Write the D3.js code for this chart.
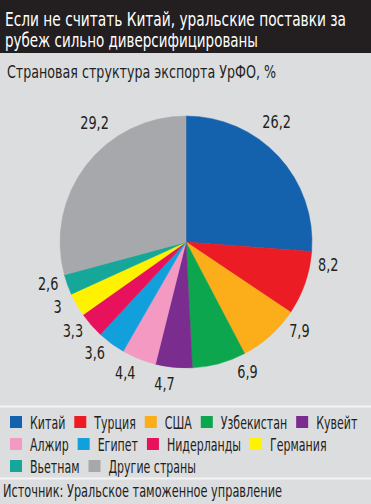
<!DOCTYPE html>
<html>
<head>
<meta charset="utf-8">
<script src="https://cdn.jsdelivr.net/npm/d3@7"></script>
<style>
  html, body { margin: 0; padding: 0; background: #dcddde; }
  svg { display: block; }
  text { font-family: "Liberation Sans Narrow", "DejaVu Sans Condensed", sans-serif; fill: #231f20; }
</style>
</head>
<body>
<div id="chart"></div>
<script>
var titleLines = ['Если не считать Китай, уральские поставки за', 'рубеж сильно диверсифицированы'];
var subtitle = 'Страновая структура экспорта УрФО, %';
var source = 'Источник: Уральское таможенное управление';

var countries = ['Китай', 'Турция', 'США', 'Узбекистан', 'Кувейт', 'Алжир', 'Египет',
	'Нидерланды', 'Германия', 'Вьетнам', 'Другие страны'];
var shares = [26.2, 8.2, 7.9, 6.9, 4.7, 4.4, 3.6, 3.3, 3, 2.6, 29.2];
var colors = ['#1461ae', '#ec1c24', '#fbad1a', '#0ca64e', '#7a2c8f', '#f49ac2', '#12a0dd',
	'#e8125c', '#fff200', '#15a89a', '#a6a8ab'];
var legendRows = [[0, 1, 2, 3, 4], [5, 6, 7, 8], [9, 10]];

var width = 371, height = 504;
var cx = 186, cy = 242, radius = 126;
var narrow = 0.84; // the original face is more condensed than any installed one
var legendNarrow = 0.68;

var svg = d3.select('#chart')
	.append('svg')
	.attr('width', width)
	.attr('height', height);

function condense(sel, k) {
	sel.each(function () {
		var w = this.getComputedTextLength();
		d3.select(this)
			.attr('textLength', w * k)
			.attr('lengthAdjust', 'spacingAndGlyphs');
	});
}

// background bands
svg.append('rect').attr('width', width).attr('height', height).attr('fill', '#dcddde');
svg.append('rect').attr('width', width).attr('height', 53).attr('fill', '#231f20');
svg.append('line').attr('x1', 0).attr('x2', width).attr('y1', 406.5).attr('y2', 406.5)
	.attr('stroke', '#f4f4f4').attr('stroke-width', 2);
svg.append('line').attr('x1', 0).attr('x2', width).attr('y1', 478.5).attr('y2', 478.5)
	.attr('stroke', '#f4f4f4').attr('stroke-width', 2);

// title
var titleWidths = [341, 253];
svg.selectAll('text.title')
	.data(titleLines)
	.enter()
	.append('text')
	.attr('class', 'title')
	.attr('x', 5)
	.attr('y', function (d, i) { return 26 + i * 21; })
	.attr('textLength', function (d, i) { return titleWidths[i]; })
	.attr('lengthAdjust', 'spacingAndGlyphs')
	.style('font-size', '20px')
	.style('fill', '#ffffff')
	.text(function (d) { return d; });

svg.append('text')
	.attr('x', 7)
	.attr('y', 78)
	.attr('textLength', 269)
	.attr('lengthAdjust', 'spacingAndGlyphs')
	.style('font-size', '18px')
	.text(subtitle);

// pie
var data = countries.map(function (c, i) {
	return { name: c, value: shares[i], color: colors[i] };
});

var pie = d3.pie()
	.value(function (d) { return d.value; })
	.sort(null);

var arc = d3.arc()
	.innerRadius(0)
	.outerRadius(radius);

var arcs = pie(data);

var g = svg.append('g')
	.attr('transform', 'translate(' + cx + ',' + cy + ')');

g.selectAll('path')
	.data(arcs)
	.enter()
	.append('path')
	.attr('d', arc)
	.attr('fill', function (d) { return d.data.color; })
	.attr('stroke', function (d) { return d.data.color; })
	.attr('stroke-width', 0.5);

// value labels, pulled a little toward the top/bottom of the pie
function labelAngle(d) {
	var mid = (d.startAngle + d.endAngle) / 2 * 180 / Math.PI;
	if (mid < 180) mid -= 10;
	else if (mid > 270) mid += 15;
	else mid += 3;
	return mid * Math.PI / 180;
}

g.selectAll('text.value')
	.data(arcs)
	.enter()
	.append('text')
	.attr('class', 'value')
	.attr('x', function (d) {
		var r = d.data.value > 20 ? 150 : 144;
		return Math.sin(labelAngle(d)) * r;
	})
	.attr('y', function (d) {
		var r = d.data.value > 20 ? 150 : 144;
		return -Math.cos(labelAngle(d)) * r;
	})
	.attr('text-anchor', 'middle')
	.attr('dominant-baseline', 'central')
	.style('font-size', '17px')
	.text(function (d) { return String(d.data.value).replace('.', ','); })
	.call(condense, narrow);

// legend
var legend = svg.append('g');
legendRows.forEach(function (row, r) {
	var x = 10;
	var y = 422 + r * 22;
	row.forEach(function (idx) {
		legend.append('rect')
			.attr('x', x)
			.attr('y', y - 6)
			.attr('width', 12)
			.attr('height', 12)
			.attr('fill', colors[idx]);
		var t = legend.append('text')
			.attr('x', x + 20)
			.attr('y', y)
			.attr('dominant-baseline', 'central')
			.style('font-size', '18px')
			.text(countries[idx]);
		var w = t.node().getComputedTextLength() * legendNarrow;
		t.attr('textLength', w).attr('lengthAdjust', 'spacingAndGlyphs');
		x += 20 + w + 9;
	});
});

svg.append('text')
	.attr('x', 3)
	.attr('y', 497)
	.attr('textLength', 279)
	.attr('lengthAdjust', 'spacingAndGlyphs')
	.style('font-size', '17px')
	.text(source);
</script>
</body>
</html>
